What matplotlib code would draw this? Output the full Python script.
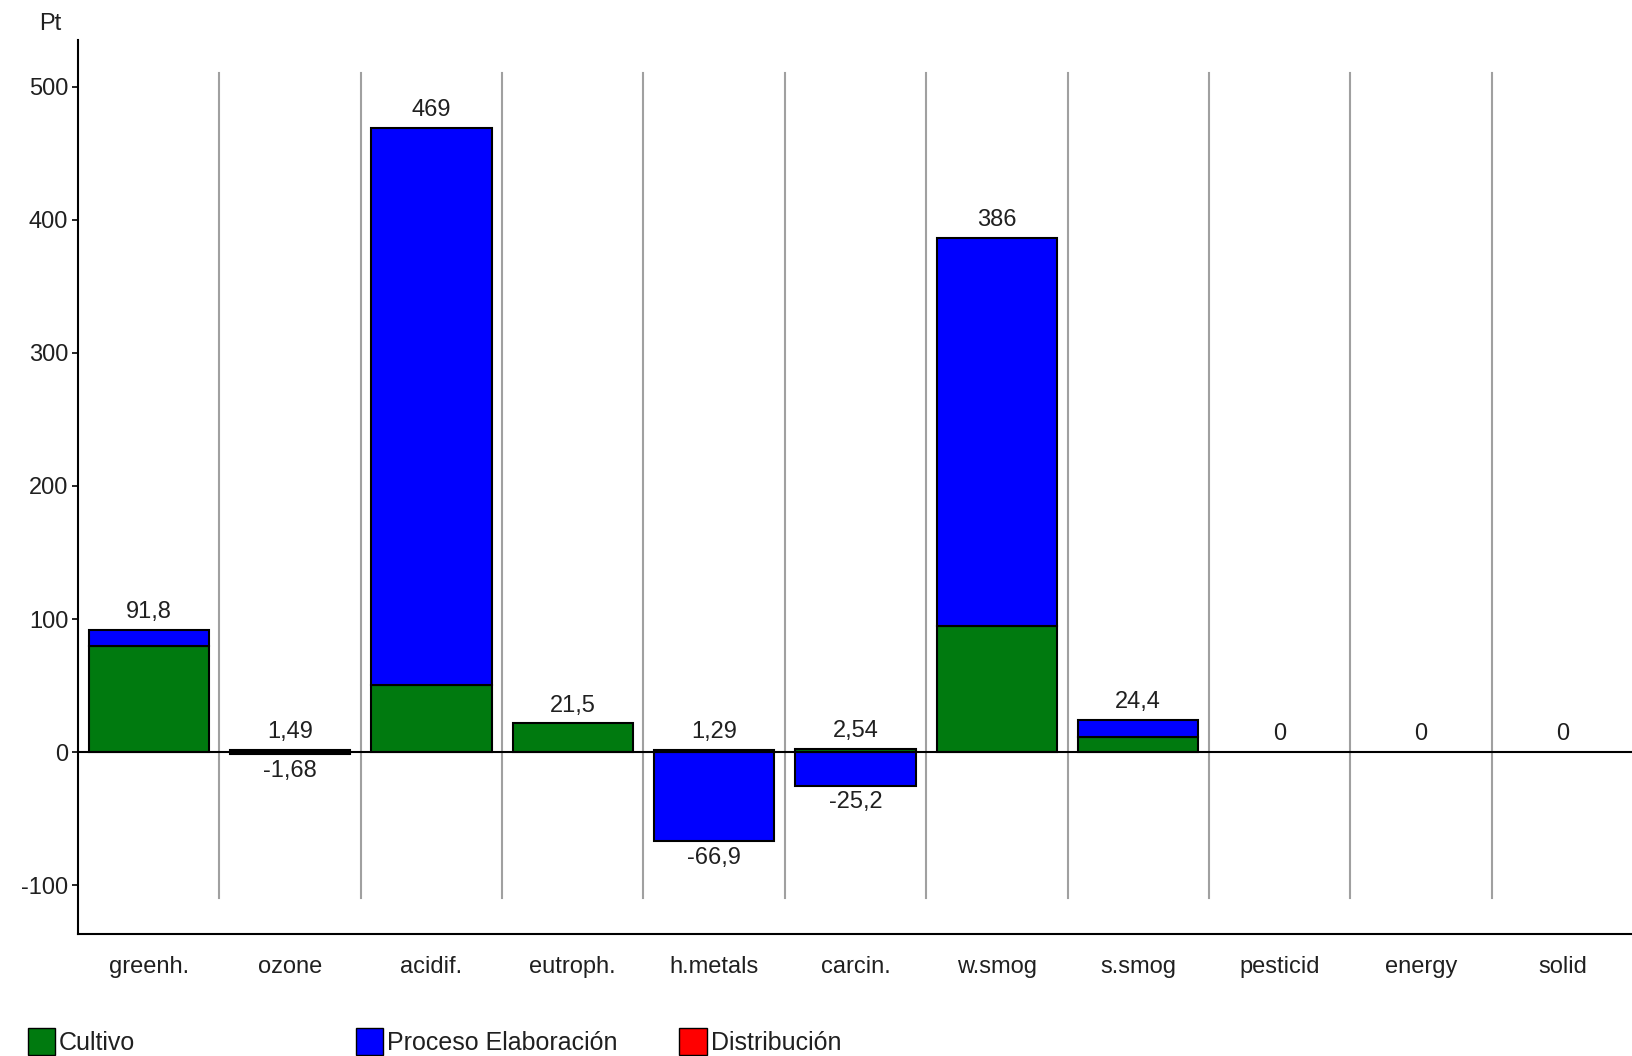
import matplotlib.pyplot as plt
from matplotlib.patches import Patch

categories = ['greenh.', 'ozone', 'acidif.', 'eutroph.', 'h.metals', 'carcin.',
              'w.smog', 's.smog', 'pesticid', 'energy', 'solid']
cultivo = [80.0, 1.49, 50.5, 21.5, 1.29, 2.54, 94.8, 11.7, 0, 0, 0]
proceso = [11.8, -1.68, 418.5, 0, -66.9, -25.2, 291.2, 12.7, 0, 0, 0]
distribucion = [0, 0, 0, 0, 0, 0, 0, 0, 0, 0, 0]
pos_labels = ['91,8', '1,49', '469', '21,5', '1,29', '2,54', '386', '24,4', '0', '0', '0']
neg_labels = ['', '-1,68', '', '', '-66,9', '-25,2', '', '', '', '', '']

plt.rcParams['font.family'] = ['Liberation Sans Narrow', 'Liberation Sans', 'DejaVu Sans']

fig = plt.figure(figsize=(16.33, 10.56), dpi=100)
ax = fig.add_axes([0.0478, 0.1155, 0.9522, 0.8465])

x = list(range(len(categories)))
w = 0.85
green = '#007a0f'
blue = '#0000ff'
red = '#ff0000'
fs = 17

# stack positives upward, negatives downward
pos_base = [0.0] * len(x)
neg_base = [0.0] * len(x)
for vals, col in [(cultivo, green), (proceso, blue), (distribucion, red)]:
    for i, v in enumerate(vals):
        if v > 0:
            ax.bar(i, v, w, bottom=pos_base[i], color=col, edgecolor='black', linewidth=1.5, zorder=3)
            pos_base[i] += v
        elif v < 0:
            ax.bar(i, v, w, bottom=neg_base[i], color=col, edgecolor='black', linewidth=1.5, zorder=3)
            neg_base[i] += v

for i in x:
    ax.annotate(pos_labels[i], (i, pos_base[i]), xytext=(0, 5), textcoords='offset points',
                ha='center', va='bottom', fontsize=fs, color='#202020')
    if neg_labels[i]:
        ax.annotate(neg_labels[i], (i, neg_base[i]), xytext=(0, -4), textcoords='offset points',
                    ha='center', va='top', fontsize=fs, color='#202020')

# separators between categories
for s in range(len(x) - 1):
    ax.plot([s + 0.5, s + 0.5], [-110, 510], color='#a0a0a0', linewidth=1.5, zorder=1)

ax.axhline(0, color='black', linewidth=1.5, zorder=4)

ax.set_xlim(-0.5, 10.5)
ax.set_ylim(-136.7, 535)
ax.set_yticks([-100, 0, 100, 200, 300, 400, 500])
ax.set_yticklabels(['-100', '0', '100', '200', '300', '400', '500'], fontsize=fs, color='#202020')
ax.set_xticks(x)
ax.set_xticklabels(categories, fontsize=fs, color='#202020')
ax.tick_params(axis='x', length=0, pad=16)
ax.tick_params(axis='y', length=4, width=1.2, pad=3)

ax.spines['top'].set_visible(False)
ax.spines['right'].set_visible(False)
ax.spines['left'].set_linewidth(1.5)
ax.spines['bottom'].set_linewidth(1.5)

fig.text(0.024, 0.977, 'Pt', fontsize=fs, ha='left', va='center', color='#202020')

handles = [Patch(facecolor=green, edgecolor='black', label='Cultivo'),
           Patch(facecolor=blue, edgecolor='black', label='Proceso Elaboración'),
           Patch(facecolor=red, edgecolor='black', label='Distribución')]
for h, xpos in zip(handles, [0.017, 0.218, 0.416]):
    fig.legend(handles=[h], loc='center left', bbox_to_anchor=(xpos, 0.014), frameon=False,
               fontsize=18, handlelength=1.1, handleheight=1.3, handletextpad=0.15,
               borderaxespad=0, borderpad=0, labelcolor='#202020')

fig.savefig('out.png', dpi=100, facecolor='white')
